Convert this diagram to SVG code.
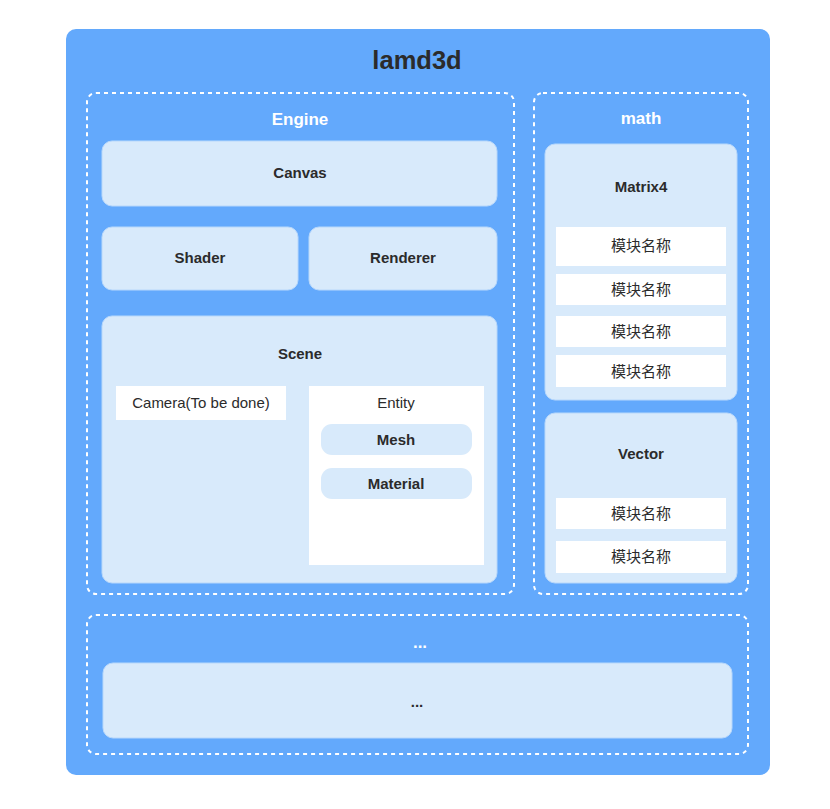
<svg xmlns="http://www.w3.org/2000/svg" width="830" height="809" viewBox="0 0 830 809">
<style>
.bg{fill:#63a9fc}
.dash{fill:none;stroke:#ffffff;stroke-width:2;stroke-dasharray:4 4}
.box{fill:#d8eafb;stroke:#b8d8fb;stroke-width:1}
.pill{fill:#d8eafb}
.wbox{fill:#ffffff}
.t{font-family:"Liberation Sans",Arial,"Noto Sans CJK SC",sans-serif;text-anchor:middle;fill:#2b2b2b}
.b{font-weight:bold;font-size:15px}
.r{font-size:15px}
.w{fill:#ffffff;font-weight:bold;font-size:17px}
</style>
<rect width="830" height="809" fill="#ffffff"/>
<g id="lamd3d">
<rect class="bg" x="66" y="29" width="704" height="746" rx="10"/>
<text class="t" x="417" y="69" font-size="25.5" font-weight="bold" fill="#222">lamd3d</text>
</g>
<g id="engine">
<rect class="dash" x="87" y="93" width="427" height="501" rx="9"/>
<text class="t w" x="300" y="125">Engine</text>
</g>
<g id="canvas"><rect class="box" x="102" y="141" width="395" height="65" rx="10"/><text class="t b" x="300" y="178">Canvas</text></g>
<g id="shader"><rect class="box" x="102" y="227" width="196" height="63" rx="10"/><text class="t b" x="200" y="263">Shader</text></g>
<g id="renderer"><rect class="box" x="309" y="227" width="188" height="63" rx="10"/><text class="t b" x="403" y="263">Renderer</text></g>
<g id="scene">
<rect class="box" x="102" y="316" width="395" height="267" rx="10"/>
<text class="t b" x="300" y="359">Scene</text>
</g>
<g id="camera"><rect class="wbox" x="116" y="386" width="170" height="34"/><text class="t r" x="201" y="408">Camera(To be done)</text></g>
<g id="entity">
<rect class="wbox" x="309" y="386" width="175" height="179"/>
<text class="t r" x="396" y="408">Entity</text>
</g>
<g id="mesh"><rect class="pill" x="321" y="424" width="151" height="31" rx="11"/><text class="t b" x="396" y="445">Mesh</text></g>
<g id="material"><rect class="pill" x="321" y="468" width="151" height="31" rx="11"/><text class="t b" x="396" y="489">Material</text></g>
<g id="math">
<rect class="dash" x="534" y="93" width="214" height="501" rx="9"/>
<text class="t w" x="641" y="124">math</text>
</g>
<g id="matrix4">
<rect class="box" x="545" y="144" width="192" height="256" rx="10"/>
<text class="t b" x="641" y="192">Matrix4</text>
</g>
<g id="m1"><rect class="wbox" x="556" y="227" width="170" height="39"/><text class="t r" x="641" y="251">模块名称</text></g>
<g id="m2"><rect class="wbox" x="556" y="274" width="170" height="31"/><text class="t r" x="641" y="295">模块名称</text></g>
<g id="m3"><rect class="wbox" x="556" y="316" width="170" height="31"/><text class="t r" x="641" y="337">模块名称</text></g>
<g id="m4"><rect class="wbox" x="556" y="355" width="170" height="32"/><text class="t r" x="641" y="377">模块名称</text></g>
<g id="vector">
<rect class="box" x="545" y="413" width="192" height="170" rx="10"/>
<text class="t b" x="641" y="459">Vector</text>
</g>
<g id="v1"><rect class="wbox" x="556" y="498" width="170" height="31"/><text class="t r" x="641" y="519">模块名称</text></g>
<g id="v2"><rect class="wbox" x="556" y="541" width="170" height="32"/><text class="t r" x="641" y="562">模块名称</text></g>
<g id="more">
<rect class="dash" x="87" y="615" width="661" height="139" rx="9"/>
<text class="t w" x="420" y="648">...</text>
</g>
<g id="more-inner"><rect class="box" x="103" y="663" width="629" height="75" rx="10"/><text class="t b" x="417" y="707">...</text></g>
<g id="connectors"></g>
</svg>
